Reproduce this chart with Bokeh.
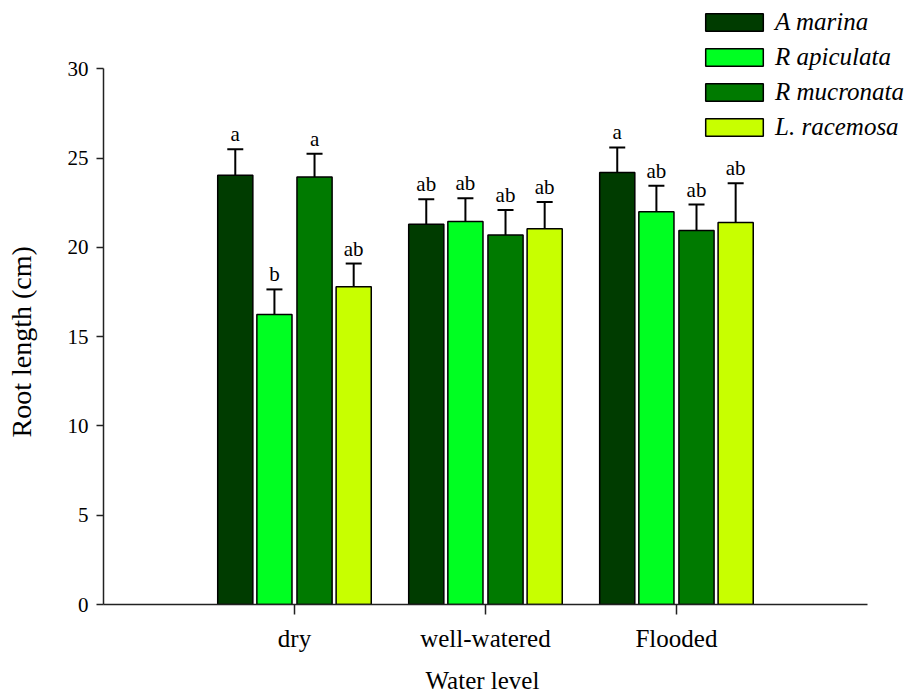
from bokeh.plotting import figure
from bokeh.models import (ColumnDataSource, Range1d, FixedTicker, Legend, LegendItem,
                          Whisker, TeeHead, Title, LinearAxis)
from bokeh.core.properties import value
from bokeh.embed import file_html
from bokeh.resources import INLINE

# ---- data ----
categories = ["dry", "well-watered", "Flooded"]
legend_labels = ["A marina", "R apiculata", "R mucronata", "L. racemosa"]

a_marina = [24.05, 21.3, 24.2]
a_marina_err = [1.45, 1.4, 1.4]
r_apiculata = [16.25, 21.45, 22.0]
r_apiculata_err = [1.4, 1.3, 1.45]
r_mucronata = [23.95, 20.7, 20.95]
r_mucronata_err = [1.3, 1.4, 1.45]
l_racemosa = [17.8, 21.05, 21.4]
l_racemosa_err = [1.3, 1.5, 2.2]

a_marina_sig = ["a", "ab", "a"]
r_apiculata_sig = ["b", "ab", "ab"]
r_mucronata_sig = ["a", "ab", "ab"]
l_racemosa_sig = ["ab", "ab", "ab"]

y_ticks = [0, 5, 10, 15, 20, 25, 30]

series = [
    (a_marina, a_marina_err, a_marina_sig),
    (r_apiculata, r_apiculata_err, r_apiculata_sig),
    (r_mucronata, r_mucronata_err, r_mucronata_sig),
    (l_racemosa, l_racemosa_err, l_racemosa_sig),
]
colors = ["#003c00", "#00ff22", "#007a00", "#c8ff00"]
offsets = [-0.31, -0.105, 0.105, 0.31]
bar_width = 0.184

FONT = "Liberation Serif"

W, H = 910, 696
p = figure(width=W, height=H, output_backend="svg", toolbar_location=None,
           x_range=Range1d(0, 4.215), y_range=Range1d(0, 33.61),
           min_border_left=103, min_border_right=2, min_border_top=4,
           min_border_bottom=92)
p.outline_line_color = None
p.xgrid.visible = False
p.ygrid.visible = False
p.background_fill_color = "white"

renderers = []
for (vals, errs, sigs), col, off in zip(series, colors, offsets):
    xs = [i + 1 + off for i in range(len(categories))]
    tops = [v + e for v, e in zip(vals, errs)]
    src = ColumnDataSource(dict(x=xs, top=vals, upper=tops, sig=sigs))
    r = p.vbar(x="x", top="top", width=bar_width, bottom=0, source=src,
               fill_color=col, line_color="black", line_width=1.5)
    renderers.append(r)
    w = Whisker(base="x", lower="top", upper="upper", source=src, dimension="height",
                line_color="black", line_width=2,
                upper_head=TeeHead(size=16, line_color="black", line_width=2),
                lower_head=None)
    p.add_layout(w)
    p.text(x="x", y="upper", text="sig", source=src, text_align="center",
           text_baseline="alphabetic", y_offset=-15, text_font=value(FONT),
           text_font_size="21px", text_color="black")

# axes
p.xaxis.ticker = FixedTicker(ticks=[1, 2, 3])
p.xaxis.major_label_overrides = {i + 1: c for i, c in enumerate(categories)}
p.xaxis.bounds = (0, 4)
p.yaxis.ticker = FixedTicker(ticks=y_ticks)
p.yaxis.bounds = (0, 30)

for ax in (p.xaxis[0], p.yaxis[0]):
    ax.axis_line_color = "#222222"
    ax.axis_line_width = 1.5
    ax.major_tick_line_color = "#222222"
    ax.major_tick_line_width = 1.5
    ax.major_tick_in = 0
    ax.minor_tick_line_color = None
    ax.major_label_text_font = FONT
    ax.major_label_text_color = "black"

p.xaxis.major_label_text_font_size = "25px"
p.yaxis.major_label_text_font_size = "21px"
p.xaxis.major_tick_out = 10
p.xaxis.major_label_standoff = 10
p.yaxis.major_tick_out = 7
p.yaxis.major_label_standoff = 8


def spacer_axis(size, tick):
    # invisible axis used only to reserve room between tick labels and axis title
    a = LinearAxis(ticker=FixedTicker(ticks=[tick]))
    a.axis_line_color = "white"
    a.axis_line_alpha = 0.01
    a.major_tick_line_color = "white"
    a.major_tick_line_alpha = 0.01
    a.minor_tick_line_color = None
    a.major_tick_in = 0
    a.major_tick_out = size
    a.minor_tick_out = 0
    a.major_label_standoff = 0
    a.major_label_text_font_size = "0px"
    a.major_label_overrides = {tick: ""}
    return a


p.add_layout(spacer_axis(24, 2), "left")
p.add_layout(spacer_axis(12, 0.2), "below")

# axis titles (positioned along the drawn axis extent)
ytitle = Title(text="Root length (cm)", align="left", offset=167, vertical_align="top",
               text_font=FONT, text_font_size="28px", text_font_style="normal",
               text_color="black", standoff=4)
p.add_layout(ytitle, "left")
xtitle = Title(text="Water level", align="left", offset=322, vertical_align="top",
               text_font=FONT, text_font_size="25px", text_font_style="normal",
               text_color="black", standoff=0)
p.add_layout(xtitle, "below")

legend = Legend(items=[LegendItem(label=lab, renderers=[r])
                       for lab, r in zip(legend_labels, renderers)],
                location=(595, 463))
legend.border_line_color = None
legend.background_fill_alpha = 0
legend.padding = 0
legend.margin = 0
legend.glyph_width = 72
legend.glyph_height = 22
legend.label_height = 26
legend.spacing = 7
legend.label_standoff = 5
legend.label_text_font = FONT
legend.label_text_font_style = "italic"
legend.label_text_font_size = "25px"
legend.label_text_color = "black"
p.add_layout(legend)

open("out.html", "w").write(file_html(p, INLINE))
